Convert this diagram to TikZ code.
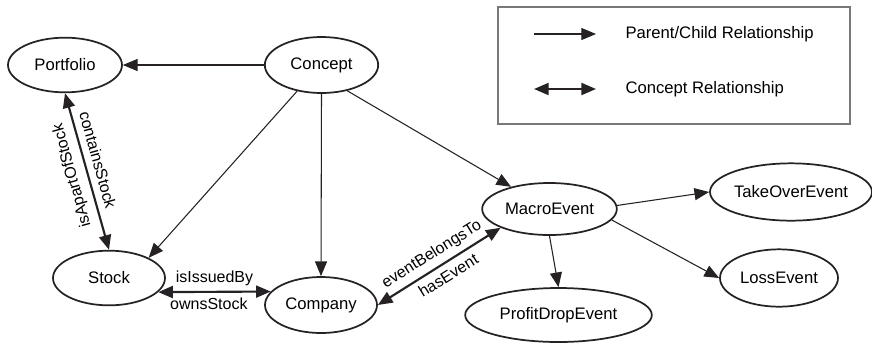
\documentclass[tikz,border=0pt]{standalone}
\usepackage{fontspec}
\setmainfont{Liberation Sans}
\usetikzlibrary{shapes.geometric,arrows.meta}

\definecolor{outline}{RGB}{38,33,36}
\definecolor{boxgray}{RGB}{120,120,120}

\tikzset{every picture/.style={line width=0.75pt}}
\tikzset{
  concept/.style={ellipse, draw=outline, line width=1.3pt, inner sep=0pt, minimum height=41pt, font=\fontsize{12.5}{15}\selectfont},
  childarrow/.style={draw=outline, line width=0.8pt, -{Triangle[length=11pt,width=9pt]}},
  relarrow/.style={draw=outline, line width=1.6pt, {Triangle[length=11pt,width=9pt]}-{Triangle[length=11pt,width=9pt]}},
  rellabel/.style={font=\fontsize{12}{14}\selectfont, inner sep=4pt},
  legendtext/.style={font=\fontsize{12.5}{15}\selectfont, anchor=west, inner sep=0pt}
}

\begin{document}
\begin{tikzpicture}[x=0.75pt,y=0.75pt,yscale=-1,xscale=1]
\useasboundingbox (0,0) rectangle (872,344);

%Shape: Ellipse
\node[concept, minimum width=85.5pt] (portfolio) at (65,65) {Portfolio};
\node[concept, minimum width=85pt, minimum height=42pt] (concept) at (321.5,65) {Concept};
\node[concept, minimum width=84pt] (stock) at (109,278) {Stock};
\node[concept, minimum width=84pt, minimum height=42pt] (company) at (321,305) {Company};
\node[concept, minimum width=101pt, minimum height=39pt] (macro) at (549.5,209) {MacroEvent};
\node[concept, minimum width=121.5pt, minimum height=43pt] (takeover) at (791,192) {TakeOverEvent};
\node[concept, minimum width=88.5pt, minimum height=43pt] (loss) at (779,278) {LossEvent};
\node[concept, minimum width=140pt, minimum height=40.5pt] (profit) at (558.5,315) {ProfitDropEvent};

%Straight Lines (parent/child)
\draw[childarrow] (concept.west) -- (portfolio.east);
\draw[childarrow] (concept.227) -- (stock.27);
\draw[childarrow] (concept.south) -- (company.north);
\draw[childarrow] (concept.-45) -- (macro.150);
\draw[childarrow] (macro.3) -- (takeover.west);
\draw[childarrow] (macro.-10) -- (loss.west);
\draw[childarrow] (macro.south) -- (profit.north);

%Straight Lines (concept relationships)
\draw[relarrow] (portfolio.south) -- (stock.north)
  node[rellabel, pos=0.45, rotate=-74.5, anchor=south, inner sep=5pt] {containsStock}
  node[rellabel, pos=0.5, rotate=105.5, anchor=south, inner sep=5pt] {isApartOfStock};
\draw[relarrow] (stock.-16) -- (company.165)
  node[rellabel, midway, above] {isIssuedBy}
  node[rellabel, pos=0.45, below] {ownsStock};
\draw[relarrow] (company.east) -- (macro.201)
  node[rellabel, pos=0.5, rotate=31.9, anchor=south] {eventBelongsTo}
  node[rellabel, pos=0.52, rotate=31.9, anchor=north] {hasEvent};

%Shape: Rectangle (legend)
\node[draw=boxgray, line width=0.8pt, minimum width=264pt, minimum height=87.75pt, inner sep=0pt] (legend) at (674,65.5) {};
\coordinate (pcstart) at (534,34);
\coordinate (pcend) at (596,34);
\coordinate (crstart) at (534,89);
\coordinate (crend) at (596,89);
\draw[childarrow] (pcstart) -- (pcend);
\draw[relarrow] (crstart) -- (crend);

% Text Node
\node[legendtext] (pclabel) at (625,34) {Parent/Child Relationship};
% Text Node
\node[legendtext] (crlabel) at (625,89) {Concept Relationship};

\end{tikzpicture}
\end{document}
